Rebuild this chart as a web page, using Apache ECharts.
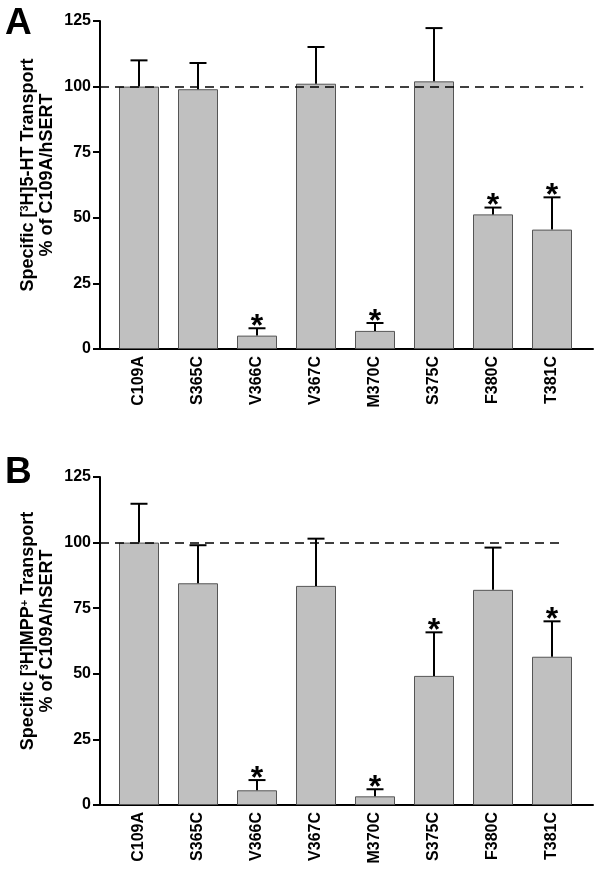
<!DOCTYPE html>
<html>
<head>
<meta charset="utf-8">
<script src="https://cdn.jsdelivr.net/npm/echarts@6/dist/echarts.min.js"></script>
<style>
html,body{margin:0;padding:0;background:#fff;}
#chart{width:602px;height:874px;}
</style>
</head>
<body>
<div id="chart"></div>
<script>
// ---- data ----
var categories = ['C109A', 'S365C', 'V366C', 'V367C', 'M370C', 'S375C', 'F380C', 'T381C'];
var meanA = [100, 99, 5.1, 101.1, 6.9, 102, 51.3, 45.5];
var semA  = [10, 10, 2.8, 14, 3, 20.3, 2.6, 12.3];
var sigA  = [0, 0, 1, 0, 1, 0, 1, 1];
var meanB = [100, 84.5, 5.6, 83.5, 3.3, 49.2, 82, 56.5];
var semB  = [14.8, 14.5, 3.9, 18, 2.7, 16.6, 16.1, 13.5];
var sigB  = [0, 0, 1, 0, 1, 1, 0, 1];
var yTicks = [0, 25, 50, 75, 100, 125];
var refValue = 100;
var refEndA = 0.98, refEndB = 0.94;   // fraction of x-axis where dashed line ends

var FONT = 'Arial, "Liberation Sans", Helvetica, sans-serif';

var chart = echarts.init(document.getElementById('chart'), null, {renderer: 'canvas'});

var panels = [
  {top: 21, mean: meanA, sem: semA, sig: sigA, refEnd: refEndA},
  {top: 477, mean: meanB, sem: semB, sig: sigB, refEnd: refEndB}
];
var H = 328;

var grids = [], xAxes = [], yAxes = [], series = [];
panels.forEach(function (p, k) {
  grids.push({left: 100, width: 493, top: p.top, height: H});
  grids.push({left: 109.5, width: 472, top: p.top, height: H});
  var gDeco = 2 * k, gBar = 2 * k + 1;
  xAxes.push({
    gridIndex: gDeco, type: 'value', min: 0, max: 1,
    axisLine: {show: true, onZero: false, lineStyle: {color: '#000', width: 2}},
    axisTick: {show: false}, axisLabel: {show: false}, splitLine: {show: false}
  });
  xAxes.push({
    gridIndex: gBar, type: 'category', data: categories,
    axisLine: {show: false}, axisTick: {show: false}, splitLine: {show: false},
    axisLabel: {rotate: 90, margin: 7, color: '#000', fontWeight: 'bold', fontSize: 16, fontFamily: FONT, interval: 0}
  });
  yAxes.push({
    gridIndex: gDeco, type: 'value', min: yTicks[0], max: yTicks[yTicks.length - 1], interval: 25,
    axisLine: {show: true, lineStyle: {color: '#000', width: 2}},
    axisTick: {show: true, inside: false, length: 7, lineStyle: {color: '#000', width: 2}},
    axisLabel: {margin: 9, color: '#000', fontWeight: 'bold', fontSize: 16, fontFamily: FONT},
    splitLine: {show: false}
  });
  yAxes.push({
    gridIndex: gBar, type: 'value', min: yTicks[0], max: yTicks[yTicks.length - 1], interval: 25,
    show: false
  });
  var xiDeco = 2 * k, xiBar = 2 * k + 1;
  series.push({
    type: 'bar', xAxisIndex: xiBar, yAxisIndex: xiBar, data: p.mean, barWidth: 40,
    itemStyle: {color: '#c0c0c0', borderColor: '#555', borderWidth: 1},
    z: 2
  });
  series.push({
    type: 'line', xAxisIndex: xiDeco, yAxisIndex: xiDeco, data: [], silent: true, z: 5,
    markLine: {
      silent: true, symbol: ['none', 'none'], label: {show: false}, z: 5,
      lineStyle: {color: '#000', width: 1.5, type: [9, 6]},
      data: [[{coord: [0, refValue]}, {coord: [p.refEnd, refValue]}]]
    }
  });
  series.push({
    type: 'custom', xAxisIndex: xiBar, yAxisIndex: xiBar, z: 6,
    data: p.mean.map(function (m, i) { return [i, m, p.sem[i], p.sig[i]]; }),
    encode: {x: 0, y: 1},
    renderItem: function (params, api) {
      var i = api.value(0), m = api.value(1), s = api.value(2), sg = api.value(3);
      var b = api.coord([i, m]);
      var t = api.coord([i, m + s]);
      var cw = 8.5;
      var children = [
        {type: 'line', shape: {x1: b[0], y1: b[1], x2: t[0], y2: t[1]}, style: {stroke: '#000', lineWidth: 2}},
        {type: 'line', shape: {x1: t[0] - cw, y1: t[1], x2: t[0] + cw, y2: t[1]}, style: {stroke: '#000', lineWidth: 2}}
      ];
      if (sg) {
        children.push({type: 'text', x: t[0], y: t[1] + 15,
          style: {text: '*', fill: '#000', font: 'bold 32px ' + FONT, align: 'center', verticalAlign: 'bottom'}});
      }
      return {type: 'group', children: children};
    }
  });
});

var richTitle = {
  a: {fontSize: 18, fontWeight: 'bold', fontFamily: FONT, color: '#000', lineHeight: 19},
  s: {fontSize: 11, fontWeight: 'bold', fontFamily: FONT, color: '#000', verticalAlign: 'top', lineHeight: 19}
};

chart.setOption({
  animation: false,
  backgroundColor: '#fff',
  grid: grids,
  xAxis: xAxes,
  yAxis: yAxes,
  series: series,
  graphic: [
    {type: 'text', left: 5, top: 5, style: {text: 'A', font: 'bold 37px ' + FONT, fill: '#000'}},
    {type: 'text', left: 5, top: 454, style: {text: 'B', font: 'bold 37px ' + FONT, fill: '#000'}},
    {type: 'text', x: 38, y: 175, rotation: Math.PI / 2,
      style: {text: '{a|Specific [}{s|3}{a|H]5-HT Transport}\n{a|% of C109A/hSERT}', rich: richTitle,
        align: 'center', verticalAlign: 'middle'}},
    {type: 'text', x: 38, y: 631, rotation: Math.PI / 2,
      style: {text: '{a|Specific [}{s|3}{a|H]MPP}{s|+}{a| Transport}\n{a|% of C109A/hSERT}', rich: richTitle,
        align: 'center', verticalAlign: 'middle'}}
  ]
});
</script>
</body>
</html>
